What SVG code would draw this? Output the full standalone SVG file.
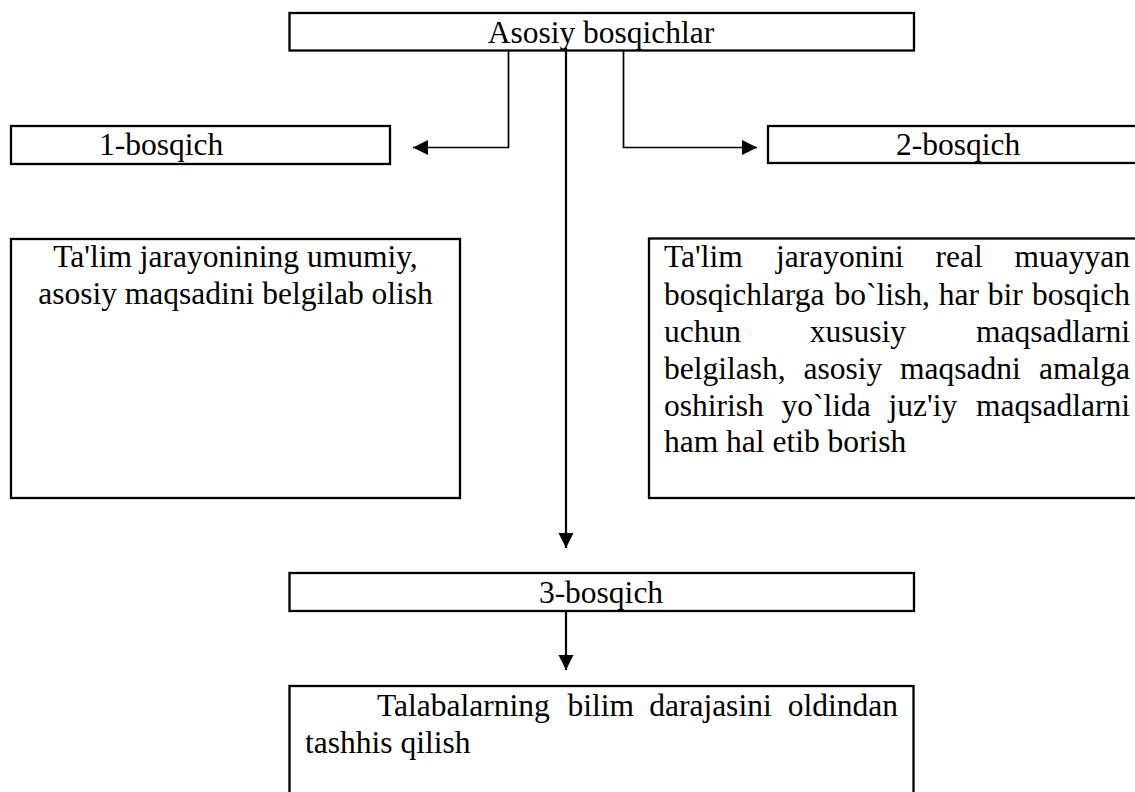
<svg xmlns="http://www.w3.org/2000/svg" width="1135" height="792" viewBox="0 0 1135 792">
<style>
.box{fill:#fff;stroke:#000;stroke-width:2.3}
.t{font-family:"Liberation Serif","Times New Roman",serif;font-size:31.5px;fill:#000}
.c{text-anchor:middle}
.con{fill:none;stroke:#000}
.thin{stroke-width:1.7}
.mid{stroke-width:2.2}
</style>
<defs>
<marker id="arr" markerWidth="16" markerHeight="16" refX="15" refY="7.5" orient="auto" markerUnits="userSpaceOnUse">
<path d="M0,0 L15,7.5 L0,15 Z" fill="#000"/>
</marker>
</defs>
<rect width="1135" height="792" fill="#fff"/>
<g id="connectors">
<path class="con thin" d="M508.5 51 V147.5 H413" marker-end="url(#arr)"/>
<path class="con thin" d="M623.5 51 V147.5 H757" marker-end="url(#arr)"/>
<path class="con mid" d="M566 48 V548" marker-end="url(#arr)"/>
<path class="con mid" d="M566 612 V670" marker-end="url(#arr)"/>
</g>
<g id="node-asosiy">
<rect class="box" x="289.5" y="13" width="624.5" height="37.5" style="fill:none"/>
<text class="t c" x="601" y="43">Asosiy bosqichlar</text>
</g>
<g id="node-1-bosqich">
<rect class="box" x="11" y="126" width="379" height="38"/>
<text class="t" x="99" y="155">1-bosqich</text>
</g>
<g id="node-2-bosqich">
<rect class="box" x="768" y="126" width="382" height="37"/>
<text class="t" x="896" y="155">2-bosqich</text>
</g>
<g id="node-1-desc">
<rect class="box" x="11" y="239" width="449" height="259"/>
<text class="t c" x="235.5" y="267">Ta'lim jarayonining umumiy,</text>
<text class="t c" x="235.5" y="304">asosiy maqsadini belgilab olish</text>
</g>
<g id="node-2-desc">
<rect class="box" x="649" y="238.5" width="501" height="259.5"/>
<text class="t" y="267"><tspan x="664">Ta'lim</tspan><tspan x="776">jarayonini</tspan><tspan x="935.5">real</tspan><tspan x="1130" text-anchor="end">muayyan</tspan></text>
<text class="t" y="304.5"><tspan x="664">bosqichlarga</tspan><tspan x="834.4">bo`lish,</tspan><tspan x="938.8">har</tspan><tspan x="987.7">bir</tspan><tspan x="1130" text-anchor="end">bosqich</tspan></text>
<text class="t" y="342"><tspan x="664">uchun</tspan><tspan x="809.8">xususiy</tspan><tspan x="1130" text-anchor="end">maqsadlarni</tspan></text>
<text class="t" y="379"><tspan x="664">belgilash,</tspan><tspan x="803.5">asosiy</tspan><tspan x="900">maqsadni</tspan><tspan x="1130" text-anchor="end">amalga</tspan></text>
<text class="t" y="415.5"><tspan x="664">oshirish</tspan><tspan x="781.6">yo`lida</tspan><tspan x="888.6">juz'iy</tspan><tspan x="1130" text-anchor="end">maqsadlarni</tspan></text>
<text class="t" x="664" y="452">ham hal etib borish</text>
</g>
<g id="node-3-bosqich">
<rect class="box" x="289.5" y="573" width="624.5" height="38"/>
<text class="t c" x="601" y="603">3-bosqich</text>
</g>
<g id="node-3-desc">
<rect class="box" x="289.5" y="686" width="624" height="120"/>
<text class="t" y="716"><tspan x="377">Talabalarning</tspan><tspan x="567.6">bilim</tspan><tspan x="649.2">darajasini</tspan><tspan x="898" text-anchor="end">oldindan</tspan></text>
<text class="t" x="305" y="753">tashhis qilish</text>
</g>
</svg>
